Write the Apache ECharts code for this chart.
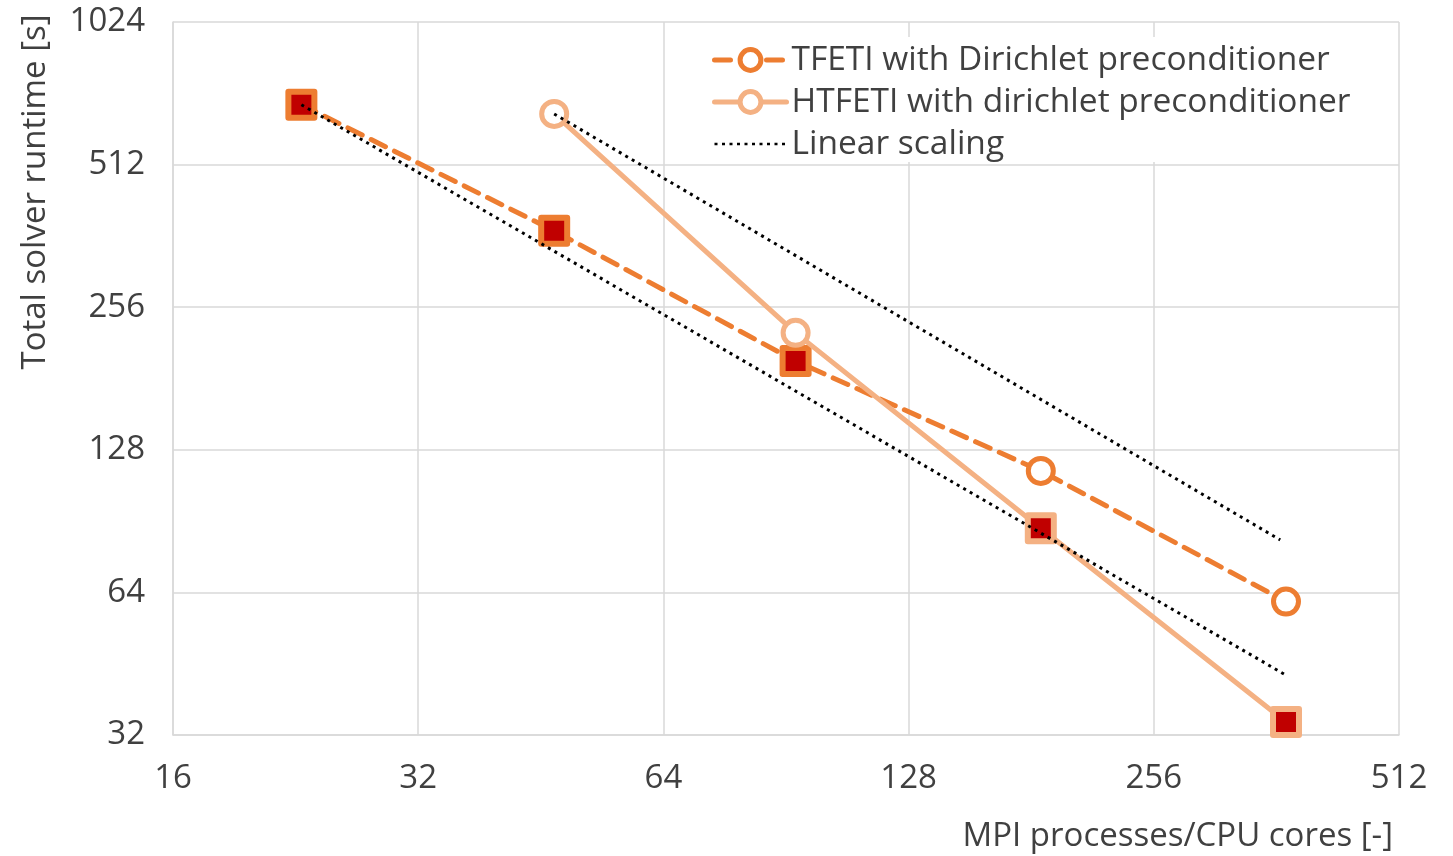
<!DOCTYPE html>
<html>
<head>
<meta charset="utf-8">
<script src="https://cdn.jsdelivr.net/npm/echarts@6/dist/echarts.min.js"></script>
<style>
html,body{margin:0;padding:0;background:#fff;}
#chart{width:1453px;height:856px;}
</style>
</head>
<body>
<div id="chart"></div>
<script>
// Data
var cores = [23, 47, 93, 186, 372];
var tfeti = [685, 371, 197, 115.5, 61.2];
var htfeti = [null, 655, 226, 87.4, 34.1];
var linearFromTfeti = [[23, 685], [372, 42.8]];
var linearFromHtfeti = [[47, 655], [366, 82.6]];
var xTicks = [16, 32, 64, 128, 256, 512];
var yTicks = [32, 64, 128, 256, 512, 1024];

var ORANGE = '#ED7D31', LIGHT = '#F4B183', RED = '#C00000', TEXT = '#404040', GRID = '#D9D9D9';
var FONT = '"Open Sans", "Noto Sans", sans-serif';
var FS = 33;

// square marker = fastest solver at that core count
function buildData(vals, other, border) {
  var out = [];
  for (var i = 0; i < cores.length; i++) {
    if (vals[i] == null) continue;
    var best = other[i] == null || vals[i] <= other[i];
    var d = { value: [cores[i], vals[i]] };
    if (best) {
      d.symbol = 'rect';
      d.symbolSize = 26;
      d.itemStyle = { color: RED, borderColor: border, borderWidth: 6, borderJoin: 'round' };
    }
    out.push(d);
  }
  return out;
}

var chart = echarts.init(document.getElementById('chart'));
chart.setOption({
  animation: false,
  backgroundColor: '#fff',
  textStyle: { fontFamily: FONT },
  grid: { left: 173, right: 54, top: 22, bottom: 121 },
  legend: {
    orient: 'vertical',
    left: 704,
    top: 37,
    backgroundColor: '#fff',
    padding: [6, 10, 1, 8],
    itemWidth: 72,
    itemHeight: 26,
    itemGap: 8,
    textStyle: { fontSize: 33.5, color: TEXT, fontFamily: FONT },
    data: [
      { name: 'TFETI with Dirichlet preconditioner', lineStyle: { width: 5 }, itemStyle: { borderWidth: 5 } },
      { name: 'HTFETI with dirichlet preconditioner', lineStyle: { width: 5 }, itemStyle: { borderWidth: 5 } },
      { name: 'Linear scaling', itemStyle: { opacity: 0 }, lineStyle: { width: 2.5 } }
    ]
  },
  xAxis: {
    type: 'log', logBase: 2, min: xTicks[0], max: xTicks[xTicks.length - 1],
    name: 'MPI processes/CPU cores [-]',
    nameLocation: 'end', nameGap: -6,
    nameTextStyle: { align: 'right', verticalAlign: 'top', fontSize: FS, color: TEXT, padding: [85, 0, 0, 0] },
    axisLine: { show: true, lineStyle: { color: GRID, width: 1.5 } },
    axisTick: { show: false },
    axisLabel: { fontSize: FS, color: TEXT, margin: 27, formatter: function (v) { return String(Math.round(v)); } },
    splitLine: { show: true, lineStyle: { color: GRID, width: 1.5 } }
  },
  yAxis: {
    type: 'log', logBase: 2, min: yTicks[0], max: yTicks[yTicks.length - 1],
    axisLine: { show: true, lineStyle: { color: GRID, width: 1.5 } },
    axisTick: { show: false },
    axisLabel: { fontSize: FS, color: TEXT, margin: 28, formatter: function (v) { return String(Math.round(v)); } },
    splitLine: { show: true, lineStyle: { color: GRID, width: 1.5 } }
  },
  graphic: [{
    type: 'text', x: 36, y: 192, rotation: Math.PI / 2,
    style: { text: 'Total solver runtime [s]', fill: TEXT, font: FS + 'px ' + FONT, textAlign: 'center', textVerticalAlign: 'middle' }
  }],
  series: [
    {
      name: 'TFETI with Dirichlet preconditioner', type: 'line',
      data: buildData(tfeti, htfeti, ORANGE),
      symbol: 'circle', symbolSize: 25,
      itemStyle: { color: '#fff', borderColor: ORANGE, borderWidth: 5 },
      lineStyle: { color: ORANGE, width: 5, type: [16, 10], cap: 'round' },
      z: 2
    },
    {
      name: 'HTFETI with dirichlet preconditioner', type: 'line',
      data: buildData(htfeti, tfeti, LIGHT),
      symbol: 'circle', symbolSize: 25,
      itemStyle: { color: '#fff', borderColor: LIGHT, borderWidth: 5 },
      lineStyle: { color: LIGHT, width: 5, type: 'solid', cap: 'round' },
      z: 3
    },
    {
      name: 'Linear scaling', type: 'line', data: linearFromTfeti,
      symbol: 'none', itemStyle: { color: '#000' },
      lineStyle: { color: '#000', width: 3, type: [3, 4.5] }, z: 4
    },
    {
      name: 'Linear scaling', type: 'line', data: linearFromHtfeti,
      symbol: 'none', itemStyle: { color: '#000' },
      lineStyle: { color: '#000', width: 3, type: [3, 4.5] }, z: 4
    }
  ]
});
</script>
</body>
</html>
